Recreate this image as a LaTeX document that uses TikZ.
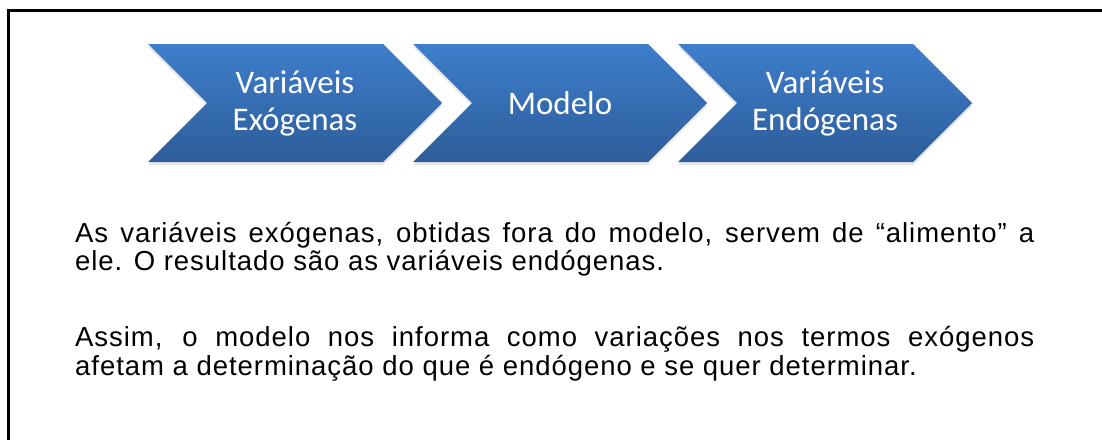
\documentclass[tikz,border=0pt]{standalone}
\usepackage{fontspec}
\setmainfont{Liberation Sans}
\newfontfamily\bodyfont{Liberation Sans}[LetterSpace=3.5]
\newfontfamily\chevfont{Carlito}
\usetikzlibrary{shapes.symbols, shadows, positioning}
\definecolor{chevtop}{RGB}{62,126,203}
\definecolor{chevbottom}{RGB}{45,93,154}
\tikzset{
    chevron/.style={
        signal, signal from=west, signal to=east, signal pointer angle=90,
        minimum width=294pt, minimum height=118pt, inner sep=0pt,
        top color=chevtop, bottom color=chevbottom, draw=none,
        drop shadow={shadow xshift=0pt, shadow yshift=-3pt, opacity=0.2},
        text=white, align=center, font=\chevfont\fontsize{33}{37}\selectfont
    },
    bodytext/.style={
        text width=959pt, align=justify, inner sep=0pt, anchor=base west,
        font=\bodyfont\fontsize{27.5}{28.5}\selectfont
    },
    frameline/.style={draw=black, line width=3.5pt}
}

\begin{document}
\begin{tikzpicture}[x=1pt, y=1pt]
\useasboundingbox (0,0) rectangle (1102,-439);

% Frame (open at right and bottom)
\draw[frameline] (8.5,-445) -- (8.5,-10.3) -- (1110,-10.3);

% Chevrons (top row)
\node[chevron] (exo) at (295,-103) {Variáveis\\Exógenas};
\node[chevron] (mod) at (560,-103) {Modelo};
\node[chevron] (endo) at (825,-103) {Variáveis\\Endógenas};

% Explanation (below)
\node[bodytext] (texto) at (75,-242) {\hyphenpenalty=10000
As variáveis exógenas, obtidas fora do modelo, servem de “alimento” a\linebreak
ele. O resultado são as variáveis endógenas.\par\vspace{47.5pt}
Assim, o modelo nos informa como variações nos termos exógenos\linebreak
afetam a determinação do que é endógeno e se quer determinar.};

\end{tikzpicture}
\end{document}
